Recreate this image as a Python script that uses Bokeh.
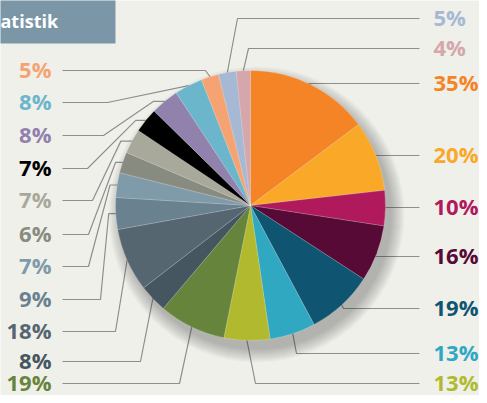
import math
from bokeh.plotting import figure
from bokeh.models import Range1d, ColumnDataSource
from bokeh.core.properties import value
from bokeh.embed import file_html
from bokeh.resources import INLINE

# ---- data (clockwise from 12 o'clock) ----
values = [35, 20, 10, 16, 19, 13, 13, 19, 8, 18, 9, 7, 6, 7, 7, 8, 8, 5, 5, 4]
colors = ["#f58426", "#f9a828", "#b0195c", "#560a35", "#0f5470", "#30a8c2",
          "#b1ba2e", "#67843c", "#455660", "#566670", "#6a8190", "#7f9aa8",
          "#888c80", "#a8a99a", "#000000", "#9181ad", "#6cb6cb", "#f6a373",
          "#a6b8d4", "#d5a7aa"]
labels = [f"{v}%" for v in values]
title_text = "atistik"

# ---- layout (reference pixel coordinates) ----
side    = ["r", "r", "r", "r", "r", "r", "r", "l", "l", "l", "l", "l", "l", "l", "l", "l", "l", "l", "r", "r"]
label_y = [83, 155, 207, 256, 308, 353, 383, 383, 361, 331, 299, 266, 234, 200, 168, 135, 102, 70, 18, 48]
bend_x  = [300, 370, 380, 370, 343, 296, 255, 179, 140, 115, 100, 88, 88, 92, 87, 103, 107, 205, 237, 248]
knee_dx = [0, 0, 0, 0, 0, 0, 0, 0, 0, 0, -7, -7, -7, -11, -10, -11, 0, 0, 0, 0]
TEXT_DY = -2

BG = "#f0f0eb"
CX, CY, R = 250, 205, 135
X0, X1, Y0, Y1 = 0, 479, 0, 395
W, H = X1 - X0, Y1 - Y0

p = figure(width=W, height=H, x_range=Range1d(X0, X1), y_range=Range1d(-Y1, -Y0),
           output_backend="svg", toolbar_location=None, min_border=0,
           x_axis_location=None, y_axis_location=None)
p.grid.visible = False
p.outline_line_color = None
p.background_fill_color = BG
p.border_fill_color = BG

# title box
p.quad(left=[X0 - 10], right=[115], top=[10], bottom=[-43], fill_color="#7b97a7", line_color=None)
p.text(x=[0], y=[-20], text=[title_text], text_align="left", text_baseline="middle",
       text_color="white", text_font=value("Open Sans"), text_font_size="18px", text_font_style="bold")

# geometry of slices
total = sum(values)
cum = [0]
for v in values:
    cum.append(cum[-1] + v)
start_a = [math.pi / 2 - 2 * math.pi * cum[i + 1] / total for i in range(len(values))]
end_a = [math.pi / 2 - 2 * math.pi * cum[i] / total for i in range(len(values))]
mid = [2 * math.pi * (cum[i] + values[i] / 2) / total for i in range(len(values))]

# leader lines
xs, ys = [], []
for i in range(len(values)):
    t = mid[i]
    ix, iy = CX + 110 * math.sin(t), CY - 110 * math.cos(t)
    ex, ey = CX + R * math.sin(t), CY - R * math.cos(t)
    kx = ex + knee_dx[i]
    endx = 62 if side[i] == "l" else 419
    px = [ix, ex, kx, bend_x[i], endx]
    py = [iy, ey, ey, label_y[i], label_y[i]]
    xs.append(px)
    ys.append([-v for v in py])
p.multi_line(xs=xs, ys=ys, line_color="#8e8e8e", line_width=1.2)

# shadow
for k in range(14):
    p.circle(x=[CX + 6], y=[-(CY + 9)], radius=R + k, fill_color="#303030",
             fill_alpha=0.022, line_color=None)

# pie
src = ColumnDataSource(dict(start=start_a, end=end_a, color=colors))
p.wedge(x=CX, y=-CY, radius=R, start_angle="start", end_angle="end", fill_color="color",
        line_color="white", line_alpha=0.3, line_width=0.6, source=src)

# labels
li = [i for i in range(len(values)) if side[i] == "l"]
ri = [i for i in range(len(values)) if side[i] == "r"]
p.text(x=[51] * len(li), y=[-(label_y[i] + TEXT_DY) for i in li], text=[labels[i] for i in li],
       text_color=[colors[i] for i in li], text_align="right", text_baseline="middle",
       text_font=value("Open Sans"), text_font_size="22px", text_font_style="bold")
p.text(x=[433] * len(ri), y=[-(label_y[i] + TEXT_DY) for i in ri], text=[labels[i] for i in ri],
       text_color=[colors[i] for i in ri], text_align="left", text_baseline="middle",
       text_font=value("Open Sans"), text_font_size="22px", text_font_style="bold")

open("out.html", "w").write(file_html(p, INLINE))
